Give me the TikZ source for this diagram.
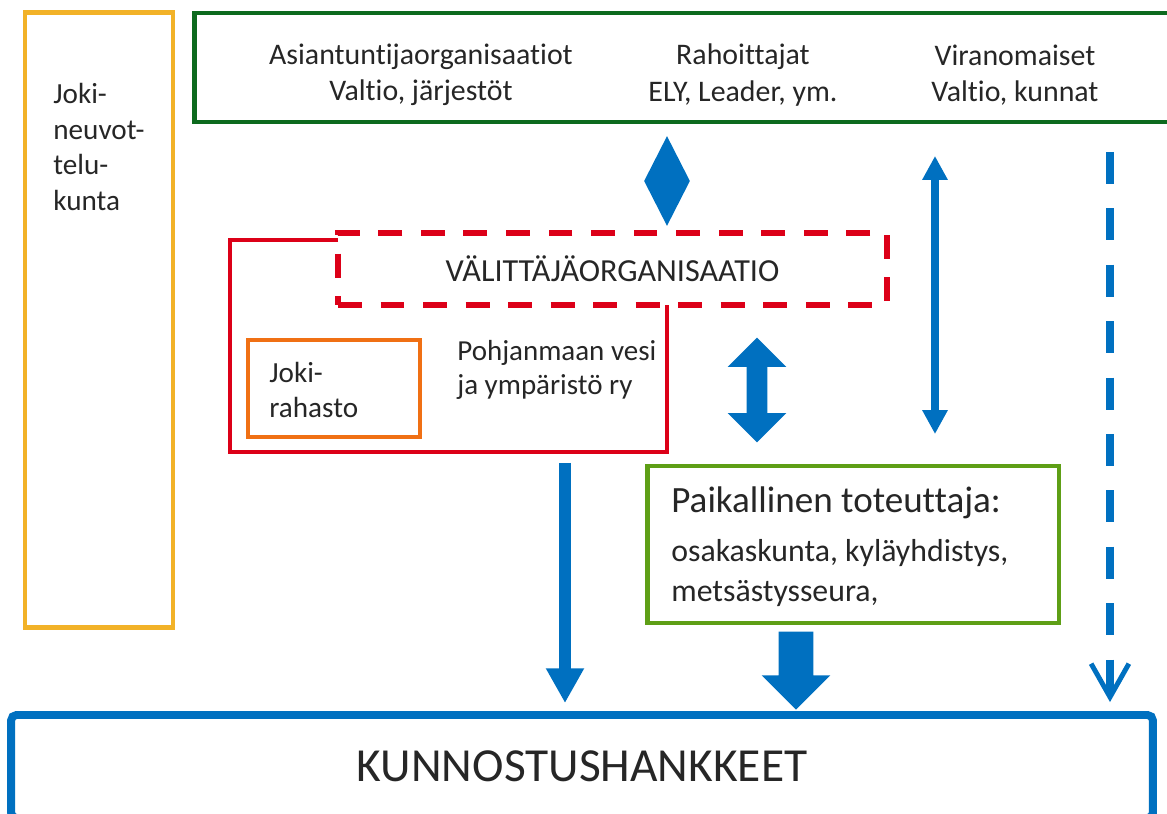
\documentclass[tikz,border=0pt]{standalone}
\usepackage{fontspec}
\setmainfont{Carlito}[Ligatures=NoCommon]
\usetikzlibrary{shapes.geometric,shapes.arrows,arrows.meta}
\definecolor{cblue}{HTML}{0070C0}
\definecolor{cred}{HTML}{DC0018}
\definecolor{corange}{HTML}{F07014}
\definecolor{cyellow}{HTML}{F2B228}
\definecolor{cdgreen}{HTML}{0D6A1E}
\definecolor{clgreen}{HTML}{5E9F16}
\definecolor{tgray}{HTML}{262626}
\tikzset{
  boxframe/.style={draw, rectangle, line width=2.8pt, inner sep=0pt},
  txtA/.style={text=tgray, inner sep=0pt, font=\fontsize{17}{20.8}\selectfont},
  blockarrow/.style={fill=cblue, inner xsep=0pt},
}
\begin{document}
\begin{tikzpicture}[x=0.02cm, y=-0.02cm]
\useasboundingbox (0,0) rectangle (1167,814);
\clip (0,0) rectangle (1167,814);

% Joki-neuvottelukunta
\node[boxframe, draw=cyellow, minimum width=2.96cm, minimum height=12.32cm] (neuvo) at (99,320) {};
\node[txtA, align=left, anchor=west, font=\fontsize{16.6}{20.4}\selectfont] (neuvotxt) at (53,147) {Joki-\\neuvot-\\telu-\\kunta};

% top green box
\node[boxframe, draw=cdgreen, minimum width=19.92cm, minimum height=2.18cm] (orgs) at (692,67.5) {};
\node[txtA, align=center] (asi) at (421,75) {Asiantuntijaorganisaatiot\\Valtio, järjestöt};
\node[txtA, align=center] (rah) at (743,75) {Rahoittajat\\ELY, Leader, ym.};
\node[txtA, align=center] (vir) at (1015,75) {Viranomaiset\\Valtio, kunnat};

% diamond
\node[diamond, fill=cblue, inner sep=0pt, minimum width=0.92cm, minimum height=1.8cm] (dia) at (667,181) {};

% välittäjäorganisaatio (dashed)
\node[boxframe, draw=cred, line width=3.2pt, dash pattern=on 13.6pt off 10.6pt,
      minimum width=10.98cm, minimum height=1.44cm, text=tgray,
      font=\fontsize{18.3}{20}\selectfont] (valit) at (612.5,269) {VÄLITTÄJÄORGANISAATIO};

% solid red outline
\draw[cred, line width=2.8pt] (338,240) -- (230,240) -- (230,452) -- (667,452) -- (667,305);
\coordinate (polyB) at (565,452);

% Joki-rahasto
\node[boxframe, draw=corange, minimum width=3.44cm, minimum height=1.94cm] (rahasto) at (334,388.5) {};
\node[txtA, align=left, anchor=west, font=\fontsize{16.6}{19.8}\selectfont] (rahtxt) at (269,390) {Joki-\\rahasto};
\node[txtA, align=left, anchor=west, font=\fontsize{16.5}{19.8}\selectfont] (pohj) at (457,370) {Pohjanmaan vesi\\ja ympäristö ry};

% Paikallinen toteuttaja
\node[boxframe, draw=clgreen, minimum width=8.24cm, minimum height=3.14cm] (paik) at (853,544.5) {};
\node[txtA, anchor=west, font=\fontsize{21.1}{25}\selectfont] (paik1) at (671,503) {Paikallinen toteuttaja:};
\node[txtA, anchor=west, align=left, font=\fontsize{18.1}{22.7}\selectfont] (paik2) at (671,573) {osakaskunta, kyläyhdistys,\\metsästysseura,};

% Kunnostushankkeet
\node[boxframe, draw=cblue, line width=4.5pt, rounded corners=3pt, minimum width=22.84cm, minimum height=2.06cm,
      text=tgray, font=\fontsize{27}{30}\selectfont] (kunn) at (582,766.5) {KUNNOSTUSHANKKEET};

% double block arrow
\node[double arrow, blockarrow, rotate=90, inner ysep=0.2cm, minimum height=2.1cm, minimum width=1.16cm, double arrow head extend=0.38cm] (dbl) at (757,390) {};

% single block arrow
\node[single arrow, blockarrow, rotate=-90, inner ysep=0.34cm, minimum height=1.56cm, minimum width=1.36cm, single arrow head extend=0.34cm] (blk) at (796,662) {};

% thin double arrow
\coordinate (tX) at (935,0);
\draw[cblue, line width=4.2pt, {Triangle[length=13.6pt,width=13.6pt]}-{Triangle[length=13.6pt,width=13.6pt]},
      shorten <=0.63cm, shorten >=0.59cm] (orgs.south -| tX) -- (paik.north -| tX);

% dashed arrow
\coordinate (dX) at (1110,0);
\draw[cblue, line width=4.7pt, dash pattern=on 18.2pt off 13.9pt,
      -{Straight Barb[length=19pt,width=21.5pt,line width=2.8pt]},
      shorten <=0.55cm, shorten >=0.18cm] (orgs.south -| dX) -- (kunn.north -| dX);

% left arrow
\draw[cblue, line width=6.8pt, -{Triangle[length=19.8pt,width=20.4pt]},
      shorten <=0.22cm, shorten >=0.16cm] (polyB) -- (kunn.north -| polyB);
\end{tikzpicture}
\end{document}
